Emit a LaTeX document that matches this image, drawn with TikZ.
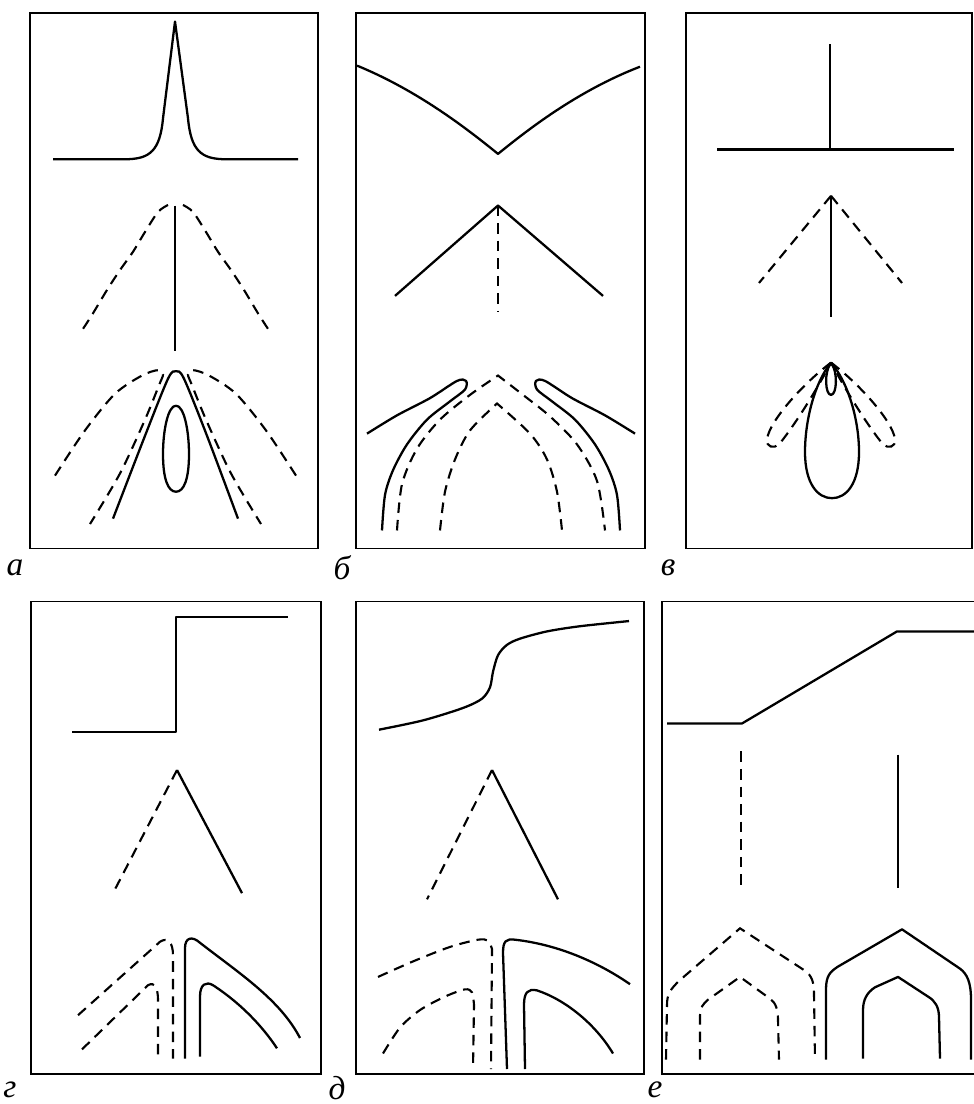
\documentclass[tikz,border=0pt]{standalone}
\usepackage{fontspec}
\setmainfont{Liberation Serif}
\usepackage{tikz}
\usetikzlibrary{positioning}

\begin{document}
\begin{tikzpicture}[
        x=0.02cm,y=-0.02cm,
        frame/.style={line width=0.8pt},
        curve/.style={line width=1.3pt,line join=round},
        dcurve/.style={line width=1.2pt,dash pattern=on 6pt off 4pt},
        lbl/.style={font=\fontsize{19}{21}\selectfont\itshape,inner sep=0pt}]

        \useasboundingbox (0,0) rectangle (973,1104);

        \node[lbl] (la) at (15,568)  {а};
        \node[lbl] (lb) at (342,568) {б};
        \node[lbl] (lv) at (668,568) {в};
        \node[lbl] (lg) at (10,1090) {г};
        \node[lbl] (ld) at (337,1088) {д};
        \node[lbl] (le) at (655,1090) {е};

        % upper row
        \begin{scope}[yscale=1.076]
        \draw[frame] (30,12) rectangle (318,510);
        \draw[frame] (356,12) rectangle (645,510);
        \draw[frame] (686,12) rectangle (972,510);

        % panel a
        \draw[curve] (53,148) -- (125,148) .. controls (150,148) and (160,140) .. (163,110)
              -- (175,20) -- (188,110) .. controls (191,140) and (201,148) .. (226,148) -- (298,148);
        \draw[curve] (175,191) -- (175,326);
        \draw[dcurve] plot[smooth] coordinates {(168,190.5) (158,197) (145,215.6) (133,234) (120,251)
              (107,269.5) (92,292.7) (82,307)};
        \draw[dcurve] plot[smooth] coordinates {(183,190.5) (193,197) (206,215.6) (218,234) (231,251)
              (244,269.5) (259,292.7) (269,307)};
        \draw[curve] plot[smooth] coordinates {(113,482) (145,405) (168,352) (176,345) (184,352) (207,405) (238,482)};
        \draw[curve] (176,377) .. controls (168,377) and (163,400) .. (163,422)
              .. controls (163,445) and (168,457) .. (176,457)
              .. controls (184,457) and (189,445) .. (189,422)
              .. controls (189,400) and (184,377) .. (176,377);
        \draw[dcurve] plot[smooth] coordinates {(55,442) (85,400) (115,366) (142,349) (158,344) (163,348)
              (159,358) (145,390) (120,440) (90,487)};
        \draw[dcurve] plot[smooth] coordinates {(296,442) (266,400) (236,366) (209,349) (193,344) (188,348)
              (192,358) (206,390) (231,440) (261,487)};

        % panel b
        \draw[curve] (357,61) .. controls (420,85) and (470,122) .. (498,143)
              .. controls (526,122) and (576,85) .. (640,62);
        \draw[curve] (395,275) -- (498,191) -- (603,275);
        \draw[dcurve] (498,191) -- (498,290);
        \draw[curve] plot[smooth] coordinates {(367,403) (397,386) (430,370) (457,354) (466,354) (465,362)
              (450,373) (427,390) (407,413) (393,437) (385,460) (382,493)};
        \draw[curve] plot[smooth] coordinates {(635,403) (605,386) (572,370) (545,354) (536,354) (537,362)
              (552,373) (575,390) (595,413) (609,437) (617,460) (620,493)};
        \draw[dcurve] plot[smooth] coordinates {(397,493) (402,450) (417,417) (440,390) (470,367) (498,349)}
              -- plot[smooth] coordinates {(498,349) (523,367) (550,387) (577,413) (597,447) (605,493)};
        \draw[dcurve] plot[smooth] coordinates {(440,493) (445,457) (455,427) (470,400) (497,375)}
              -- plot[smooth] coordinates {(497,375) (530,403) (547,427) (557,457) (562,493)};

        % panel v
        \draw[curve] (717,139) -- (954,139);
        \draw[curve] (830,41) -- (830,139);
        \draw[curve] (831,182) -- (831,295);
        \draw[dcurve] (831,182) -- (759,263);
        \draw[dcurve] (831,182) -- (902,263);
        \draw[curve] (831,337) .. controls (815,355) and (805,390) .. (805,420)
              .. controls (805,450) and (818,463) .. (832,463)
              .. controls (846,463) and (859,450) .. (859,420)
              .. controls (859,390) and (848,355) .. (831,337);
        \draw[curve] (831,337) .. controls (824,345) and (825,367) .. (831,367)
              .. controls (837,367) and (838,345) .. (831,337);
        \draw[dcurve] (831,337) .. controls (805,355) and (770,390) .. (767,408)
              .. controls (766,416) and (774,417) .. (779,413)
              .. controls (795,395) and (818,360) .. (831,337);
        \draw[dcurve] (831,337) .. controls (857,355) and (892,390) .. (895,408)
              .. controls (896,416) and (888,417) .. (883,413)
              .. controls (867,395) and (844,360) .. (831,337);
        \end{scope}

        % lower row
        \begin{scope}[yshift=0.386cm,yscale=1.0345]
        \draw[frame] (31,600) rectangle (321,1057);
        \draw[frame] (356,600) rectangle (644,1057);
        \draw[frame] (662,600) rectangle (978,1057);

        % panel g
        \draw[curve] (72,726) -- (176,726) -- (176,615) -- (288,615);
        \draw[dcurve] (177,763) -- (113,882);
        \draw[curve] (177,763) -- (242,882);
        \draw[dcurve] (78,1000) -- (160,929) .. controls (168,924) and (173,930) .. (173,942) -- (173,1042);
        \draw[dcurve] (82,1033) -- (148,971) .. controls (155,967) and (158,975) .. (158,985) -- (158,1040);
        \draw[curve] (185,1042) -- (185,935) .. controls (185,925) and (192,923) .. (200,930)
              .. controls (240,960) and (280,985) .. (300,1022);
        \draw[curve] (200,1040) -- (200,982) .. controls (200,970) and (206,967) .. (213,971)
              .. controls (240,988) and (262,1010) .. (277,1032);

        % panel d
        \draw[curve] plot[smooth] coordinates {(379,724) (423,715) (463,703) (482,694) (490,683) (493,668)
              (498,652) (507,642) (520,636) (547,629) (580,624) (629,619)};
        \draw[dcurve] (492,763) -- (427,888);
        \draw[curve] (492,763) -- (558,888);
        \draw[dcurve] plot[smooth] coordinates {(378,963) (413,948) (450,934) (478,927) (488,928) (492,936)}
              -- (491,1052);
        \draw[dcurve] plot[smooth] coordinates {(383,1037) (400,1012) (420,995) (445,982) (465,975) (472,978) (474,990)}
              -- (473,1052);
        \draw[curve] (507,1052) -- (503,940) .. controls (503,928) and (506,926) .. (515,927)
              .. controls (560,932) and (600,950) .. (630,970);
        \draw[curve] (525,1052) -- (524,990) .. controls (524,978) and (528,974) .. (537,976)
              .. controls (565,985) and (595,1008) .. (613,1037);

        % panel e
        \draw[curve] (667,718) -- (742,718) -- (897,629) -- (975,629);
        \draw[dcurve] (741,745) -- (741,875);
        \draw[curve] (898,748) -- (898,877);
        \draw[dcurve] (666,1043) -- (667,990) .. controls (667,980) and (670,975) .. (680,966) -- (740,916)
              -- (805,957) .. controls (812,962) and (814,968) .. (814,980) -- (815,1043);
        \draw[dcurve] (700,1043) -- (700,1000) .. controls (700,993) and (703,989) .. (708,985) -- (740,963)
              -- (770,984) .. controls (776,988) and (778,995) .. (778,1005) -- (779,1043);
        \draw[curve] (826,1043) -- (826,975) .. controls (826,962) and (830,958) .. (838,953) -- (902,917)
              -- (960,955) .. controls (967,960) and (971,968) .. (971,985) -- (971,1043);
        \draw[curve] (863,1042) -- (863,995) .. controls (863,985) and (867,978) .. (875,973) -- (898,963)
              -- (928,982) .. controls (935,986) and (939,992) .. (939,1002) -- (940,1042);
        \end{scope}

    \end{tikzpicture}
\end{document}
